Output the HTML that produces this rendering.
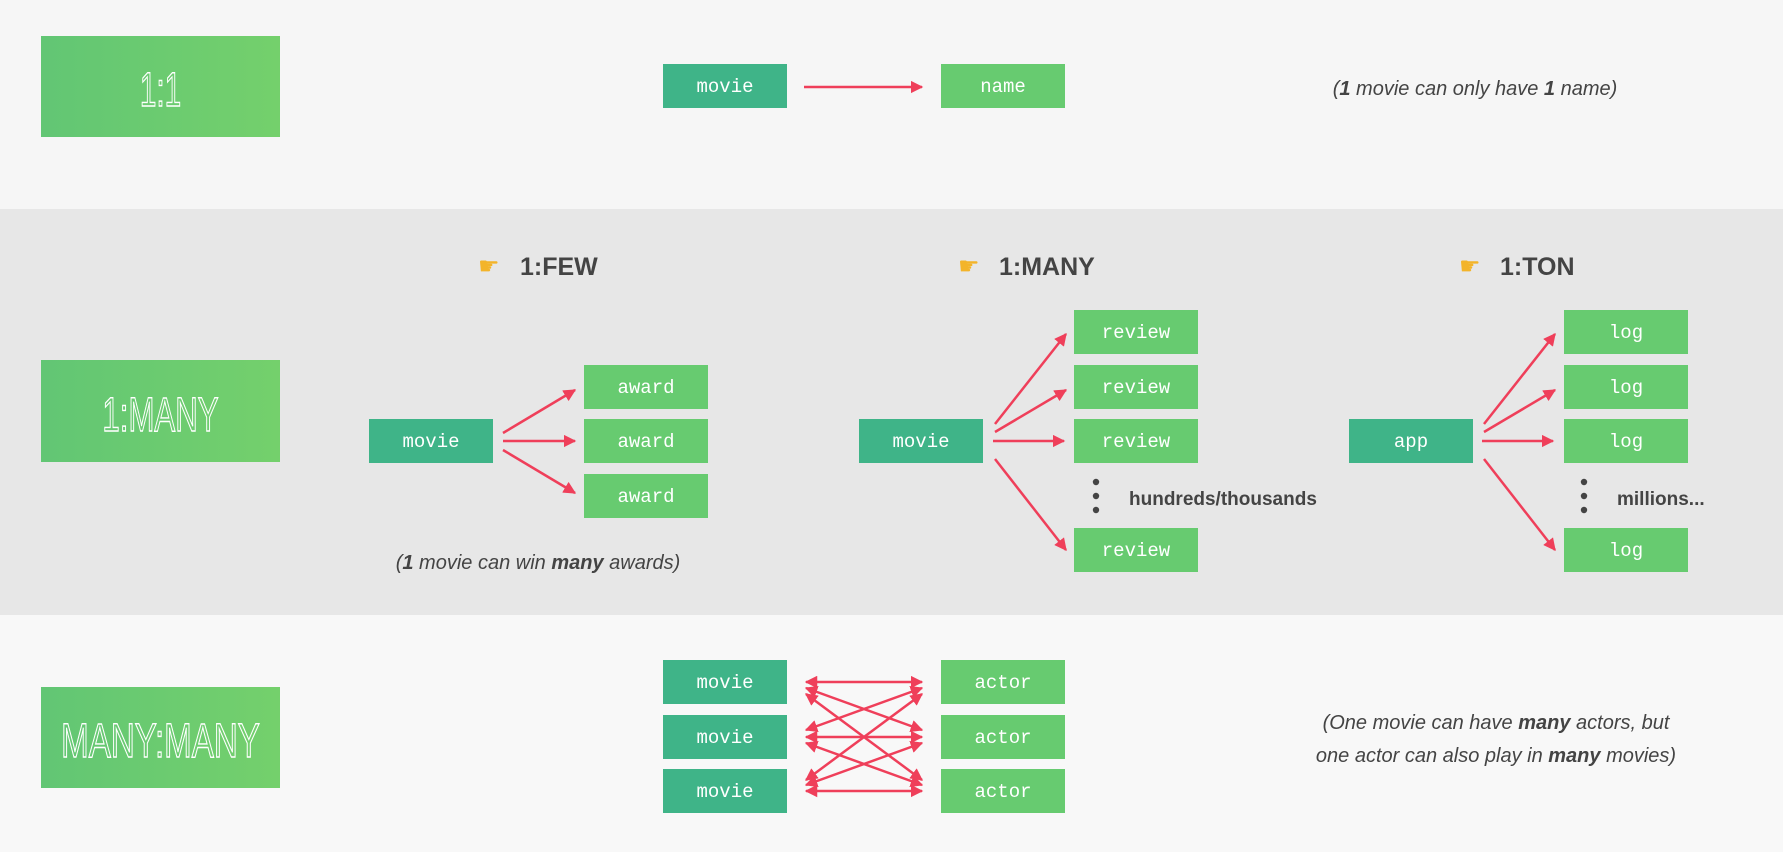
<!DOCTYPE html>
<html><head><meta charset="utf-8"><style>
html,body{margin:0;padding:0;width:1783px;height:852px;overflow:hidden;background:#f6f6f6}
svg{display:block}
.n{font-family:"Liberation Mono","DejaVu Sans Mono",monospace;font-size:19px;fill:#fff}
.big{font-family:"Liberation Sans",sans-serif;font-size:48px;fill:none;stroke:#fff;stroke-width:1.4}
.h{font-family:"Liberation Sans",sans-serif;font-weight:bold;font-size:25px;fill:#444}
.c{font-family:"Liberation Sans",sans-serif;font-style:italic;font-size:20px;fill:#444}
.b{font-family:"Liberation Sans",sans-serif;font-weight:bold;font-size:19px;fill:#444}
.e{font-family:"DejaVu Sans",sans-serif;font-size:24px;fill:#f3b42a}
</style></head><body>
<svg width="1783" height="852" viewBox="0 0 1783 852" xmlns="http://www.w3.org/2000/svg">
<defs>
<linearGradient id="g" x1="0" x2="1"><stop offset="0" stop-color="#62c674"/><stop offset="1" stop-color="#74d06c"/></linearGradient>
<marker id="a" viewBox="0 0 10 10" refX="9" refY="5" markerWidth="5" markerHeight="5" orient="auto-start-reverse"><path d="M0,0L10,5L0,10z" fill="#ef3f5a"/></marker>
</defs>
<rect x="0" y="0" width="1783" height="209" fill="#f6f6f6"/>
<rect x="0" y="209" width="1783" height="406" fill="#e7e7e7"/>
<rect x="0" y="615" width="1783" height="237" fill="#f8f8f8"/>

<!-- big labels -->
<rect x="41" y="36" width="239" height="101" fill="url(#g)"/>
<text class="big" x="160.5" y="106" text-anchor="middle" transform="translate(160.5 0) scale(0.62 1) translate(-160.5 0)">1:1</text>
<rect x="41" y="360" width="239" height="102" fill="url(#g)"/>
<text class="big" x="160.5" y="431" text-anchor="middle" transform="translate(160.5 0) scale(0.65 1) translate(-160.5 0)">1:MANY</text>
<rect x="41" y="687" width="239" height="101" fill="url(#g)"/>
<text class="big" x="160.5" y="757" text-anchor="middle" transform="translate(160.5 0) scale(0.69 1) translate(-160.5 0)">MANY:MANY</text>

<g stroke="#ef3f5a" stroke-width="2.5" fill="none">
<line x1="804" y1="87" x2="922" y2="87" marker-end="url(#a)"/>
<line x1="503" y1="433" x2="575" y2="390" marker-end="url(#a)"/>
<line x1="503" y1="441" x2="575" y2="441" marker-end="url(#a)"/>
<line x1="503" y1="450" x2="575" y2="493" marker-end="url(#a)"/>
<line x1="995" y1="424" x2="1066" y2="334" marker-end="url(#a)"/>
<line x1="995" y1="432" x2="1066" y2="390" marker-end="url(#a)"/>
<line x1="993" y1="441" x2="1064" y2="441" marker-end="url(#a)"/>
<line x1="995" y1="459" x2="1066" y2="550" marker-end="url(#a)"/>
<line x1="1484" y1="424" x2="1555" y2="334" marker-end="url(#a)"/>
<line x1="1484" y1="432" x2="1555" y2="390" marker-end="url(#a)"/>
<line x1="1482" y1="441" x2="1553" y2="441" marker-end="url(#a)"/>
<line x1="1484" y1="459" x2="1555" y2="550" marker-end="url(#a)"/>
<line x1="806" y1="682" x2="922" y2="682" marker-start="url(#a)" marker-end="url(#a)"/>
<line x1="806" y1="737" x2="922" y2="737" marker-start="url(#a)" marker-end="url(#a)"/>
<line x1="806" y1="791" x2="922" y2="791" marker-start="url(#a)" marker-end="url(#a)"/>
<line x1="806" y1="688" x2="922" y2="730" marker-start="url(#a)" marker-end="url(#a)"/>
<line x1="806" y1="730" x2="922" y2="688" marker-start="url(#a)" marker-end="url(#a)"/>
<line x1="806" y1="743" x2="922" y2="785" marker-start="url(#a)" marker-end="url(#a)"/>
<line x1="806" y1="785" x2="922" y2="743" marker-start="url(#a)" marker-end="url(#a)"/>
<line x1="806" y1="694" x2="922" y2="780" marker-start="url(#a)" marker-end="url(#a)"/>
<line x1="806" y1="780" x2="922" y2="694" marker-start="url(#a)" marker-end="url(#a)"/>
</g>

<g>
<rect x="663" y="64" width="124" height="44" fill="#3fb488"/><text class="n" x="725" y="92" text-anchor="middle">movie</text>
<rect x="941" y="64" width="124" height="44" fill="#67cb70"/><text class="n" x="1003" y="92" text-anchor="middle">name</text>

<rect x="369" y="419" width="124" height="44" fill="#3fb488"/><text class="n" x="431" y="447" text-anchor="middle">movie</text>
<rect x="584" y="365" width="124" height="44" fill="#67cb70"/><text class="n" x="646" y="393" text-anchor="middle">award</text>
<rect x="584" y="419" width="124" height="44" fill="#67cb70"/><text class="n" x="646" y="447" text-anchor="middle">award</text>
<rect x="584" y="474" width="124" height="44" fill="#67cb70"/><text class="n" x="646" y="502" text-anchor="middle">award</text>

<rect x="859" y="419" width="124" height="44" fill="#3fb488"/><text class="n" x="921" y="447" text-anchor="middle">movie</text>
<rect x="1074" y="310" width="124" height="44" fill="#67cb70"/><text class="n" x="1136" y="338" text-anchor="middle">review</text>
<rect x="1074" y="365" width="124" height="44" fill="#67cb70"/><text class="n" x="1136" y="393" text-anchor="middle">review</text>
<rect x="1074" y="419" width="124" height="44" fill="#67cb70"/><text class="n" x="1136" y="447" text-anchor="middle">review</text>
<rect x="1074" y="528" width="124" height="44" fill="#67cb70"/><text class="n" x="1136" y="556" text-anchor="middle">review</text>

<rect x="1349" y="419" width="124" height="44" fill="#3fb488"/><text class="n" x="1411" y="447" text-anchor="middle">app</text>
<rect x="1564" y="310" width="124" height="44" fill="#67cb70"/><text class="n" x="1626" y="338" text-anchor="middle">log</text>
<rect x="1564" y="365" width="124" height="44" fill="#67cb70"/><text class="n" x="1626" y="393" text-anchor="middle">log</text>
<rect x="1564" y="419" width="124" height="44" fill="#67cb70"/><text class="n" x="1626" y="447" text-anchor="middle">log</text>
<rect x="1564" y="528" width="124" height="44" fill="#67cb70"/><text class="n" x="1626" y="556" text-anchor="middle">log</text>

<rect x="663" y="660" width="124" height="44" fill="#3fb488"/><text class="n" x="725" y="688" text-anchor="middle">movie</text>
<rect x="663" y="715" width="124" height="44" fill="#3fb488"/><text class="n" x="725" y="743" text-anchor="middle">movie</text>
<rect x="663" y="769" width="124" height="44" fill="#3fb488"/><text class="n" x="725" y="797" text-anchor="middle">movie</text>
<rect x="941" y="660" width="124" height="44" fill="#67cb70"/><text class="n" x="1003" y="688" text-anchor="middle">actor</text>
<rect x="941" y="715" width="124" height="44" fill="#67cb70"/><text class="n" x="1003" y="743" text-anchor="middle">actor</text>
<rect x="941" y="769" width="124" height="44" fill="#67cb70"/><text class="n" x="1003" y="797" text-anchor="middle">actor</text>
</g>

<g fill="#444">
<circle cx="1096" cy="482" r="3.2"/><circle cx="1096" cy="496" r="3.2"/><circle cx="1096" cy="510" r="3.2"/>
<circle cx="1584" cy="482" r="3.2"/><circle cx="1584" cy="496" r="3.2"/><circle cx="1584" cy="510" r="3.2"/>
</g>
<text class="b" x="1129" y="505">hundreds/thousands</text>
<text class="b" x="1617" y="505">millions...</text>

<text class="e" x="478" y="274">☛</text><text class="h" x="520" y="275">1:FEW</text>
<text class="e" x="958" y="274">☛</text><text class="h" x="999" y="275">1:MANY</text>
<text class="e" x="1459" y="274">☛</text><text class="h" x="1500" y="275">1:TON</text>

<text class="c" x="1475" y="95" text-anchor="middle">(<tspan font-weight="bold">1</tspan> movie can only have <tspan font-weight="bold">1</tspan> name)</text>
<text class="c" x="538" y="569" text-anchor="middle">(<tspan font-weight="bold">1</tspan> movie can win <tspan font-weight="bold">many</tspan> awards)</text>
<text class="c" x="1496" y="729" text-anchor="middle">(One movie can have <tspan font-weight="bold">many</tspan> actors, but</text>
<text class="c" x="1496" y="762" text-anchor="middle">one actor can also play in <tspan font-weight="bold">many</tspan> movies)</text>
</svg>
</body></html>
